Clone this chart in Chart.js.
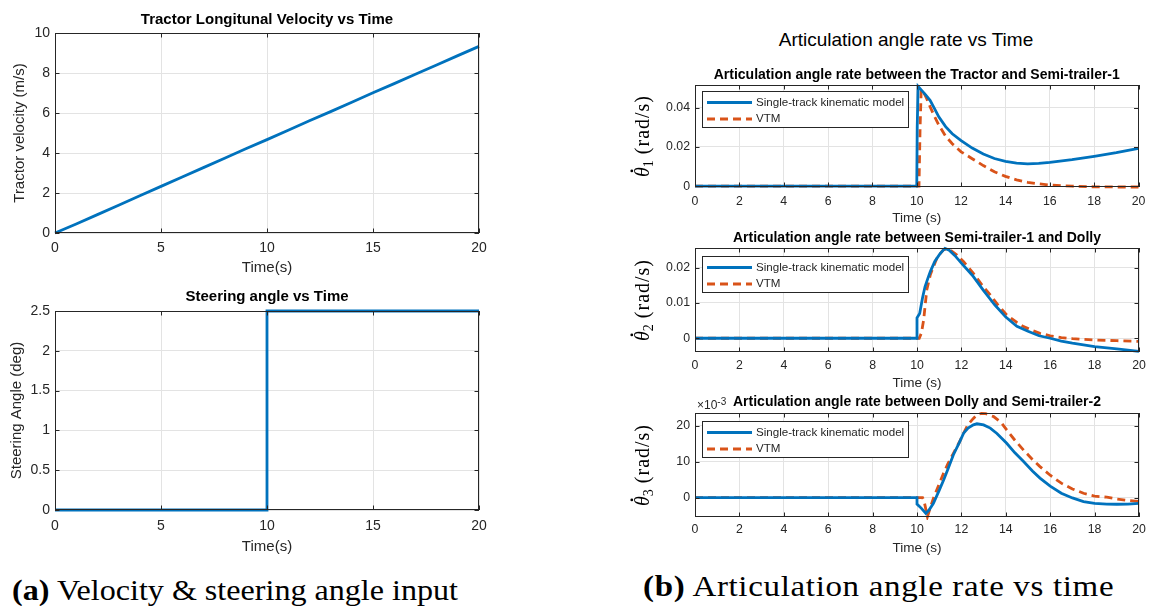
<!DOCTYPE html>
<html>
<head>
<meta charset="utf-8">
<script src="https://cdn.jsdelivr.net/npm/chart.js@4.4.0/dist/chart.umd.min.js"></script>
<style>
  body { margin: 0; background: #fff; width: 1153px; height: 606px; position: relative; overflow: hidden; }
  canvas { position: absolute; }
  .caption { position: absolute; font-family: "Liberation Serif", serif; font-size: 30px; color: #000; white-space: nowrap; line-height: 1; transform-origin: 0 0; }
  #suptitle { position: absolute; left: 706px; width: 400px; top: 29px; text-align: center; font-family: "Liberation Sans", Arial, sans-serif; font-size: 19px; color: #000; line-height: 22px; }
</style>
</head>
<body>
<canvas id="velocity"></canvas>
<canvas id="steering"></canvas>
<div id="suptitle">Articulation angle rate vs Time</div>
<canvas id="rate1"></canvas>
<canvas id="rate2"></canvas>
<canvas id="rate3"></canvas>
<div class="caption" style="left:12px; top:575px; transform:scaleX(1.07);"><b>(a)</b> Velocity &amp; steering angle input</div>
<div class="caption" style="left:643px; top:571px; transform:scaleX(1.10); letter-spacing:0.6px;"><b>(b)</b> Articulation angle rate vs time</div>

<script>
// ---- data ----
const velTime = [0, 1, 2, 3, 4, 5, 6, 7, 8, 9, 10, 11, 12, 13, 14, 15, 16, 17, 18, 19, 20];
const velValue = [0, 0.45, 0.92, 1.39, 1.86, 2.33, 2.80, 3.27, 3.74, 4.21, 4.67, 5.14, 5.61, 6.07, 6.54, 7.01, 7.47, 7.94, 8.40, 8.87, 9.33];

const steerTime = [0, 10, 10, 20];
const steerAngle = [0, 0, 2.5, 2.5];

// tractor / semi-trailer-1
const rate1SingleT = [0, 10.0, 10.02, 10.06, 10.2, 10.4, 10.6, 10.8, 11.0, 11.3, 11.6, 12.0, 12.5, 13.0, 13.5, 14.0, 14.5, 15.0, 15.5, 16.0, 17.0, 18.0, 19.0, 20.0];
const rate1Single = [0, 0, 0.030, 0.0508, 0.0490, 0.0465, 0.0437, 0.0395, 0.0352, 0.0303, 0.0267, 0.0232, 0.0194, 0.0164, 0.0141, 0.0126, 0.0118, 0.0114, 0.0116, 0.0121, 0.0135, 0.0152, 0.0171, 0.0193];
const rate1VtmT = [0, 10.1, 10.15, 10.2, 10.3, 10.45, 10.6, 10.8, 11.0, 11.3, 11.6, 12.0, 12.5, 13.0, 13.5, 14.0, 14.5, 15.0, 15.5, 16.0, 17.0, 18.0, 19.0, 20.0];
const rate1Vtm = [0, 0, 0.030, 0.0490, 0.0480, 0.0445, 0.0405, 0.0355, 0.0310, 0.0255, 0.0216, 0.0175, 0.0140, 0.0105, 0.0074, 0.0050, 0.0032, 0.0020, 0.0012, 0.0006, 0.0000, -0.0003, -0.0004, -0.0004];

// semi-trailer-1 / dolly
const rate2SingleT = [0, 10.0, 10.0, 10.12, 10.25, 10.36, 10.5, 10.6, 10.8, 11.04, 11.26, 11.45, 11.7, 12.0, 12.5, 13.0, 13.5, 14.0, 14.5, 15.0, 15.5, 16.0, 16.5, 17.0, 18.0, 19.0, 20.0];
const rate2Single = [0, 0, 0.0058, 0.0070, 0.0115, 0.0146, 0.0172, 0.0189, 0.0218, 0.0240, 0.0255, 0.0250, 0.0235, 0.0213, 0.0178, 0.0135, 0.0095, 0.0060, 0.0034, 0.0020, 0.0007, 0.0000, -0.0008, -0.0014, -0.0024, -0.0030, -0.0037];
const rate2VtmT = [0, 10.1, 10.2, 10.3, 10.44, 10.6, 10.74, 10.9, 11.2, 11.5, 11.8, 12.1, 12.54, 13.0, 13.3, 13.6, 14.04, 14.5, 14.8, 15.2, 15.54, 16.0, 16.5, 17.0, 18.0, 19.0, 20.0];
const rate2Vtm = [0, 0, 0.0015, 0.0052, 0.0137, 0.0180, 0.0203, 0.0228, 0.0252, 0.0250, 0.0236, 0.0217, 0.0184, 0.0145, 0.0123, 0.0098, 0.0066, 0.0045, 0.0033, 0.0022, 0.0014, 0.0007, 0.0002, -0.0001, -0.0005, -0.0007, -0.0009];

// dolly / semi-trailer-2, in 1e-3 rad/s
const rate3SingleT = [0, 10.0, 10.0, 10.2, 10.4, 10.55, 10.74, 11.0, 11.2, 11.4, 11.64, 11.9, 12.1, 12.3, 12.54, 12.7, 13.0, 13.3, 13.6, 14.04, 14.4, 14.8, 15.2, 15.54, 16.0, 16.5, 17.0, 17.5, 18.0, 18.55, 19.0, 19.5, 20.0];
const rate3Single = [0, 0, -1.8, -3.0, -4.4, -3.4, -1.6, 2.0, 4.9, 8.0, 11.9, 15.2, 17.9, 19.3, 20.2, 20.5, 20.2, 19.3, 17.8, 15.1, 12.5, 10.0, 7.4, 5.4, 3.2, 1.2, -0.1, -1.1, -1.6, -1.8, -1.85, -1.8, -1.6];
const rate3VtmT = [0, 10.25, 10.32, 10.47, 10.6, 10.74, 11.0, 11.2, 11.4, 11.64, 11.9, 12.1, 12.3, 12.54, 12.7, 12.9, 13.1, 13.45, 13.8, 14.04, 14.4, 14.8, 15.2, 15.54, 16.0, 16.5, 17.0, 17.5, 18.0, 18.55, 19.0, 19.5, 20.0];
const rate3Vtm = [0, 0, -1.0, -5.3, -2.8, -0.2, 3.8, 6.8, 9.5, 12.3, 15.3, 17.9, 20.3, 22.0, 23.0, 23.4, 23.3, 22.5, 20.8, 18.8, 16.0, 13.2, 10.6, 8.6, 6.2, 4.0, 2.4, 1.2, 0.4, 0.1, -0.4, -0.8, -1.1];

const timeTicks5 = [0, 5, 10, 15, 20];
const timeTicks2 = [0, 2, 4, 6, 8, 10, 12, 14, 16, 18, 20];
const velTicks = [0, 2, 4, 6, 8, 10];
const steerTicks = [0, 0.5, 1, 1.5, 2, 2.5];
const rate1Ticks = [0, 0.02, 0.04];
const rate2Ticks = [0, 0.01, 0.02];
const rate3Ticks = [0, 10, 20];

const seriesNames = ['Single-track kinematic model', 'VTM'];
const BLUE = '#0072BD';
const RED = '#D95319';
const AXIS = '#262626';
const SERIF = '"Liberation Serif", "DejaVu Serif", serif';

Chart.defaults.font.family = '"Liberation Sans", Arial, sans-serif';
Chart.defaults.color = AXIS;

const zip = (xs, ys) => xs.map((x, i) => ({ x: x, y: ys[i] }));

// axes box with inward tick marks on all four sides
const boxFrame = {
  id: 'boxFrame',
  afterDatasetsDraw(chart) {
    const { ctx, chartArea: a, scales: { x, y } } = chart;
    const tl = 4.5;
    ctx.save();
    ctx.strokeStyle = AXIS;
    ctx.lineWidth = 1;
    ctx.beginPath();
    x.ticks.forEach(t => {
      const px = Math.round(x.getPixelForValue(t.value)) + 0.5;
      ctx.moveTo(px, a.bottom); ctx.lineTo(px, a.bottom - tl);
      ctx.moveTo(px, a.top); ctx.lineTo(px, a.top + tl);
    });
    y.ticks.forEach(t => {
      const py = Math.round(y.getPixelForValue(t.value)) + 0.5;
      ctx.moveTo(a.left, py); ctx.lineTo(a.left + tl, py);
      ctx.moveTo(a.right, py); ctx.lineTo(a.right - tl, py);
    });
    ctx.stroke();
    ctx.strokeRect(Math.round(a.left) + 0.5, Math.round(a.top) + 0.5, Math.round(a.width) - 1, Math.round(a.height) - 1);
    ctx.restore();
  }
};

// legend box in the upper left corner of the axes
const insideLegend = {
  id: 'insideLegend',
  afterDraw(chart, args, opts) {
    if (!opts.show) return;
    const { ctx, chartArea: a } = chart;
    const x0 = Math.round(a.left) + 7, y0 = Math.round(a.top) + opts.dy, w = 207, h = 37;
    ctx.save();
    ctx.fillStyle = '#fff';
    ctx.fillRect(x0, y0, w, h);
    ctx.strokeStyle = AXIS;
    ctx.lineWidth = 1;
    ctx.strokeRect(x0 + 0.5, y0 + 0.5, w - 1, h - 1);
    chart.data.datasets.forEach((ds, i) => {
      const cy = y0 + 11.5 + i * 16.5;
      ctx.strokeStyle = ds.borderColor;
      ctx.lineWidth = ds.borderWidth;
      ctx.setLineDash(ds.borderDash || []);
      ctx.beginPath();
      ctx.moveTo(x0 + 5, cy);
      ctx.lineTo(x0 + 50, cy);
      ctx.stroke();
      ctx.setLineDash([]);
      ctx.fillStyle = AXIS;
      ctx.font = '11.6px "Liberation Sans", Arial, sans-serif';
      ctx.textBaseline = 'middle';
      ctx.fillText(ds.label, x0 + 54, cy);
    });
    ctx.restore();
  }
};

// x10^-3 multiplier above the y axis
const expLabel = {
  id: 'expLabel',
  afterDraw(chart, args, opts) {
    if (!opts.text) return;
    const { ctx, chartArea: a } = chart;
    ctx.save();
    ctx.fillStyle = AXIS;
    ctx.textBaseline = 'middle';
    ctx.font = '12px "Liberation Sans", Arial, sans-serif';
    ctx.fillText('\u00d710', a.left + 2, a.top - 7);
    const w = ctx.measureText('\u00d710').width;
    ctx.font = '10px "Liberation Sans", Arial, sans-serif';
    ctx.fillText(opts.text, a.left + 2 + w, a.top - 11);
    ctx.restore();
  }
};

// rotated y label  \dot{\theta}_i (rad/s)
const thetaLabel = {
  id: 'thetaLabel',
  afterDraw(chart, args, opts) {
    if (!opts.sub) return;
    const { ctx, chartArea: a } = chart;
    const big = 20, small = 14;
    ctx.save();
    ctx.fillStyle = '#000';
    ctx.textBaseline = 'alphabetic';
    ctx.translate(opts.x, (a.top + a.bottom) / 2);
    ctx.rotate(-Math.PI / 2);
    ctx.font = 'italic ' + big + 'px ' + SERIF;
    const wTheta = ctx.measureText('\u03b8').width;
    ctx.font = small + 'px ' + SERIF;
    const wSub = ctx.measureText(opts.sub).width;
    ctx.font = big + 'px ' + SERIF;
    ctx.letterSpacing = '1px';
    const wUnit = ctx.measureText(' (rad/s)').width;
    let x = -(wTheta + wSub + wUnit) / 2;
    ctx.font = 'italic ' + big + 'px ' + SERIF;
    ctx.letterSpacing = '0px';
    ctx.fillText('\u03b8', x, 0);
    ctx.beginPath();
    ctx.arc(x + wTheta * 0.62, -big * 0.86, 1.4, 0, Math.PI * 2);
    ctx.fill();
    x += wTheta;
    ctx.font = small + 'px ' + SERIF;
    ctx.fillText(opts.sub, x, 4);
    x += wSub;
    ctx.font = big + 'px ' + SERIF;
    ctx.letterSpacing = '1px';
    ctx.fillText(' (rad/s)', x, 0);
    ctx.restore();
  }
};

// one MATLAB-style subplot; frame = canvas rect, area = axes rect, both in page pixels
function subplot(id, frame, area, o) {
  const cv = document.getElementById(id);
  cv.width = frame.w;
  cv.height = frame.h;
  cv.style.left = frame.x + 'px';
  cv.style.top = frame.y + 'px';

  const tLh = o.titleSize * 1.2;
  const tTop = o.titleY - frame.y - tLh / 2;
  const tBottom = area.top - frame.y - tLh - tTop;
  const frameBottom = frame.y + frame.h;

  new Chart(cv, {
    type: 'line',
    data: { datasets: o.datasets },
    options: {
      responsive: false,
      animation: false,
      layout: { padding: { left: 0, top: 0, bottom: 0, right: frame.x + frame.w - area.right } },
      elements: { point: { radius: 0 }, line: { tension: 0 } },
      plugins: {
        legend: { display: false },
        tooltip: { enabled: false },
        title: {
          display: true, fullSize: false, text: o.title, color: '#000',
          font: { size: o.titleSize, weight: 'bold' },
          padding: { top: tTop, bottom: tBottom }
        },
        insideLegend: { show: !!o.legend, dy: o.legendDy || 7 },
        expLabel: { text: o.exponent || '' },
        thetaLabel: { sub: o.thetaSub || '', x: 649 - frame.x }
      },
      scales: {
        x: {
          type: 'linear', min: o.xTicks[0], max: o.xTicks[o.xTicks.length - 1],
          afterBuildTicks: s => { s.ticks = o.xTicks.map(v => ({ value: v })); },
          afterFit: s => { s.height = frameBottom - area.bottom; },
          grid: { color: '#e3e3e3', drawTicks: false },
          border: { display: false },
          ticks: { font: { size: o.tickSize }, padding: o.xTickY - area.bottom - 0.6 * o.tickSize, maxRotation: 0, callback: v => String(v) },
          title: {
            display: true, text: o.xLabel, font: { size: o.xLabelSize },
            padding: { top: 0, bottom: frameBottom - o.xLabelY - 0.6 * o.xLabelSize }
          }
        },
        y: {
          min: o.yMin, max: o.yMax,
          afterBuildTicks: s => { s.ticks = o.yTicks.map(v => ({ value: v })); },
          afterFit: s => { s.width = area.left - frame.x; },
          grid: { color: '#e3e3e3', drawTicks: false },
          border: { display: false },
          ticks: { font: { size: o.tickSize }, padding: area.left - o.yTickRight, callback: v => String(v) },
          title: o.yLabel ? {
            display: true, text: o.yLabel, font: o.yLabelFont,
            padding: { top: o.yLabelX - frame.x - 0.6 * o.yLabelFont.size, bottom: 0 }
          } : { display: false }
        }
      }
    },
    plugins: [boxFrame, insideLegend, expLabel, thetaLabel]
  });
}

function solid(label, xs, ys) {
  return { label: label, data: zip(xs, ys), borderColor: BLUE, borderWidth: 2.8, clip: 3, borderCapStyle: 'butt' };
}
function dashed(label, xs, ys) {
  return { label: label, data: zip(xs, ys), borderColor: RED, borderWidth: 2.8, borderDash: [8, 5], clip: 3 };
}

const leftCommon = { tickSize: 14, titleSize: 15, xLabel: 'Time(s)', xLabelSize: 15, yTickRight: 50 };

subplot('velocity', { x: 0, y: 0, w: 520, h: 280 }, { left: 55, top: 33, right: 479, bottom: 233 }, Object.assign({}, leftCommon, {
  title: 'Tractor Longitunal Velocity vs Time', titleY: 20,
  xTicks: timeTicks5, xTickY: 248, xLabelY: 268,
  yMin: 0, yMax: 10, yTicks: velTicks,
  yLabel: 'Tractor velocity (m/s)', yLabelFont: { size: 15 }, yLabelX: 20,
  datasets: [solid('Tractor velocity', velTime, velValue)]
}));

subplot('steering', { x: 0, y: 280, w: 520, h: 276 }, { left: 55, top: 311, right: 479, bottom: 510 }, Object.assign({}, leftCommon, {
  title: 'Steering angle vs Time', titleY: 297,
  xTicks: timeTicks5, xTickY: 526, xLabelY: 547,
  yMin: 0, yMax: 2.5, yTicks: steerTicks,
  yLabel: 'Steering Angle (deg)', yLabelFont: { size: 15 }, yLabelX: 17,
  datasets: [solid('Steering angle', steerTime, steerAngle)]
}));

const rightCommon = { tickSize: 12.3, titleSize: 14, xLabel: 'Time (s)', xLabelSize: 13.5, yTickRight: 690, xTicks: timeTicks2, legend: true };

subplot('rate1', { x: 630, y: 62, w: 523, h: 166 }, { left: 695, top: 85, right: 1139, bottom: 187 }, Object.assign({}, rightCommon, {
  title: 'Articulation angle rate between the Tractor and Semi-trailer-1', titleY: 75,
  xTickY: 202, xLabelY: 218, legendDy: 6, thetaSub: '1',
  yMin: -0.0004, yMax: 0.0515, yTicks: rate1Ticks,
  datasets: [solid(seriesNames[0], rate1SingleT, rate1Single), dashed(seriesNames[1], rate1VtmT, rate1Vtm)]
}));

subplot('rate2', { x: 630, y: 228, w: 523, h: 164 }, { left: 695, top: 248, right: 1139, bottom: 352 }, Object.assign({}, rightCommon, {
  title: 'Articulation angle rate between Semi-trailer-1 and Dolly', titleY: 238,
  xTickY: 366, xLabelY: 383, legendDy: 8, thetaSub: '2',
  yMin: -0.0039, yMax: 0.0256, yTicks: rate2Ticks,
  datasets: [solid(seriesNames[0], rate2SingleT, rate2Single), dashed(seriesNames[1], rate2VtmT, rate2Vtm)]
}));

subplot('rate3', { x: 630, y: 392, w: 523, h: 168 }, { left: 695, top: 413, right: 1139, bottom: 517 }, Object.assign({}, rightCommon, {
  title: 'Articulation angle rate between Dolly and Semi-trailer-2', titleY: 402,
  xTickY: 530, xLabelY: 548, legendDy: 8, exponent: '-3', thetaSub: '3',
  yMin: -5.4, yMax: 23.5, yTicks: rate3Ticks,
  datasets: [solid(seriesNames[0], rate3SingleT, rate3Single), dashed(seriesNames[1], rate3VtmT, rate3Vtm)]
}));
</script>
</body>
</html>
